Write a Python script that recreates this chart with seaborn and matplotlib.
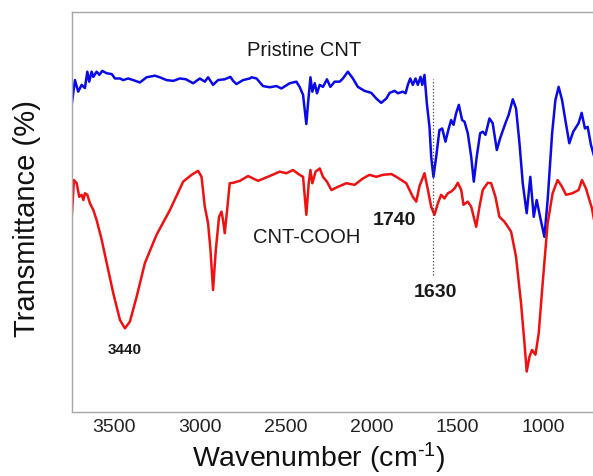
import matplotlib
matplotlib.use("Agg")
import matplotlib.pyplot as plt
import seaborn as sns

# FTIR spectra (wavenumber in cm-1, transmittance in arbitrary units)
wn_pristine = [3746, 3727, 3708, 3688, 3669, 3655, 3644, 3630, 3620, 3601,
               3585, 3568, 3542, 3513, 3494, 3465, 3446, 3417, 3388, 3349,
               3310, 3262, 3233, 3194, 3155, 3116, 3081, 3039, 3000, 2971,
               2952, 2923, 2894, 2855, 2822, 2806, 2787, 2748, 2709, 2699,
               2670, 2632, 2593, 2554, 2525, 2477, 2438, 2419, 2399, 2380,
               2370, 2356, 2345, 2331, 2318, 2302, 2283, 2260, 2240, 2215,
               2186, 2167, 2138, 2109, 2080, 2041, 2002, 1973, 1944, 1914,
               1895, 1866, 1847, 1818, 1802, 1789, 1775, 1760, 1744, 1731,
               1715, 1705, 1692, 1678, 1663, 1653, 1640, 1624, 1605, 1589,
               1570, 1551, 1537, 1523, 1508, 1492, 1473, 1459, 1440, 1420,
               1405, 1388, 1368, 1353, 1337, 1314, 1295, 1271, 1252, 1221,
               1202, 1178, 1159, 1139, 1120, 1097, 1076, 1056, 1039, 1019,
               994, 975, 949, 930, 911, 891, 872, 849, 826, 795,
               777, 758, 742, 723, 705]
t_pristine = [76.8, 83.0, 80.1, 81.8, 81.0, 85.1, 82.6, 85.1, 83.8, 85.1,
              84.3, 85.3, 84.7, 84.5, 83.4, 83.4, 83.0, 83.4, 83.0, 82.4,
              83.7, 84.1, 83.7, 83.0, 82.8, 83.4, 83.2, 82.2, 83.4, 82.6,
              83.7, 81.8, 83.0, 83.2, 83.8, 82.8, 82.0, 83.0, 83.4, 83.7,
              83.4, 81.5, 81.2, 81.5, 80.9, 82.2, 82.6, 81.3, 79.3, 72.0,
              77.2, 83.7, 80.1, 82.2, 79.7, 81.8, 81.3, 83.2, 81.3, 82.6,
              82.6, 83.4, 85.1, 83.4, 81.3, 80.3, 79.8, 78.4, 77.3, 78.4,
              79.8, 80.3, 79.7, 80.1, 79.7, 81.8, 83.4, 81.8, 83.4, 81.8,
              83.8, 81.8, 84.3, 77.0, 71.3, 63.8, 58.8, 63.8, 70.5, 70.9,
              67.6, 70.9, 73.0, 71.8, 74.7, 76.8, 73.0, 72.6, 69.7, 63.8,
              57.6, 63.8, 69.7, 70.1, 69.3, 73.4, 72.2, 65.5, 68.4, 72.2,
              74.3, 78.2, 75.9, 67.2, 57.2, 49.7, 58.8, 48.8, 53.0, 48.8,
              43.8, 53.0, 69.7, 78.0, 81.3, 78.0, 73.0, 67.2, 70.1, 72.2,
              74.8, 70.9, 71.3, 66.8, 64.0]

wn_cooh = [3746, 3733, 3717, 3702, 3688, 3678, 3669, 3655, 3640, 3620,
           3601, 3571, 3542, 3504, 3465, 3436, 3407, 3368, 3320, 3252,
           3174, 3097, 3048, 3010, 2990, 2971, 2952, 2938, 2923, 2907,
           2888, 2874, 2865, 2855, 2841, 2826, 2806, 2767, 2719, 2661,
           2593, 2535, 2496, 2458, 2419, 2399, 2380, 2366, 2356, 2345,
           2326, 2302, 2283, 2260, 2234, 2196, 2147, 2099, 2050, 2012,
           1973, 1934, 1885, 1856, 1798, 1760, 1740, 1721, 1692, 1672,
           1653, 1634, 1614, 1595, 1576, 1556, 1537, 1517, 1498, 1478,
           1465, 1440, 1420, 1391, 1372, 1353, 1324, 1304, 1279, 1256,
           1227, 1188, 1159, 1130, 1110, 1097, 1081, 1066, 1046, 1027,
           1004, 975, 946, 917, 891, 868, 830, 795, 775, 752,
           717, 705]
t_cooh = [48.4, 58.0, 57.2, 53.8, 54.3, 53.0, 54.7, 54.3, 52.2, 50.5,
          48.0, 43.0, 37.2, 29.7, 23.0, 20.9, 22.6, 28.8, 37.2, 44.3,
          50.5, 57.6, 59.3, 60.3, 58.8, 51.3, 47.2, 40.5, 30.5, 40.5,
          48.8, 50.1, 48.0, 44.7, 50.5, 57.2, 57.3, 57.8, 59.0, 57.8,
          59.0, 60.1, 59.7, 60.5, 59.3, 58.8, 49.3, 57.2, 60.5, 57.2,
          60.1, 60.9, 58.8, 57.6, 55.5, 56.3, 57.2, 56.8, 58.4, 59.3,
          58.8, 59.3, 59.5, 58.8, 57.2, 53.8, 52.6, 56.5, 59.7, 55.5,
          51.3, 49.3, 52.2, 54.3, 53.4, 54.7, 55.1, 55.9, 57.3, 55.5,
          51.8, 52.6, 51.3, 46.3, 51.3, 55.5, 57.3, 57.2, 53.8, 48.8,
          47.6, 45.1, 38.8, 27.2, 17.2, 10.1, 13.8, 15.5, 14.3, 19.7,
          32.2, 47.2, 54.7, 58.0, 56.3, 54.3, 54.7, 55.5, 58.0, 55.9,
          50.9, 48.0]

xticks = [3500, 3000, 2500, 2000, 1500, 1000]

sns.set_style("white")
plt.rcParams['font.family'] = ['Liberation Sans', 'DejaVu Sans']
plt.rcParams['mathtext.fontset'] = 'custom'
plt.rcParams['mathtext.rm'] = 'Liberation Sans'
plt.rcParams['mathtext.it'] = 'Liberation Sans'

fig = plt.figure(figsize=(5.93, 4.76), dpi=100)
ax = fig.add_axes([0.1209, 0.1338, 0.8791, 0.8416])

sns.lineplot(x=wn_pristine, y=t_pristine, sort=False, estimator=None,
             color='#0a0ae6', lw=1.8, ax=ax)
sns.lineplot(x=wn_cooh, y=t_cooh, sort=False, estimator=None,
             color='#ee1111', lw=1.8, ax=ax)

# dotted marker line at 1630
ax.plot([1640, 1640], [34.3, 83.3], ls=':', color='#444444', lw=0.9)

txt = '#1a1a1a'
ax.text(2390, 90.3, 'Pristine CNT', ha='center', va='center', fontsize=14.5, color=txt)
ax.text(2378, 43.5, 'CNT-COOH', ha='center', va='center', fontsize=14.5, color=txt)
ax.text(3438, 15.5, '3440', ha='center', va='center', fontsize=11, fontweight='bold', color=txt)
ax.text(1866, 47.8, '1740', ha='center', va='center', fontsize=14, fontweight='bold', color=txt)
ax.text(1628, 29.8, '1630', ha='center', va='center', fontsize=14, fontweight='bold', color=txt)

ax.set_xlim(3746, 711)
ax.set_ylim(-0.1, 100.1)
ax.set_xticks(xticks)
ax.set_yticks([])
ax.tick_params(axis='x', direction='in', length=5.8, width=1, color='#999999',
               pad=4.8, labelsize=14, labelcolor='#222222', top=False)

for side in ['left', 'top', 'bottom']:
    ax.spines[side].set_color('#a6a6a6')
    ax.spines[side].set_linewidth(1)
ax.spines['right'].set_visible(False)

ax.set_xlabel(r'Wavenumber (cm$^{\text{-1}}$)', fontsize=20.5, color='#111111')
ax.xaxis.set_label_coords(0.474, -0.116)
ax.xaxis.label.set_verticalalignment('center')
ax.set_ylabel('Transmittance (%)', fontsize=21, color='#111111')
ax.yaxis.set_label_coords(-0.0857, 0.484)
ax.yaxis.label.set_verticalalignment('center')

fig.savefig('out.png', dpi=100)
